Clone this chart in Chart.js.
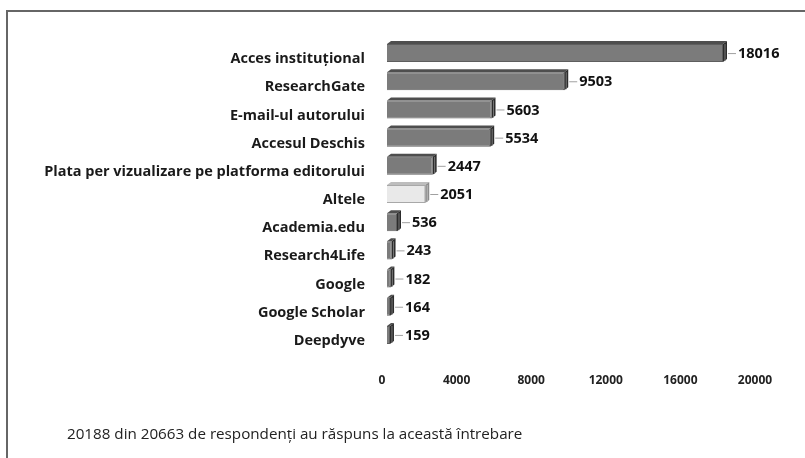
<!DOCTYPE html>
<html>
<head>
<meta charset="utf-8">
<script src="https://cdn.jsdelivr.net/npm/chart.js@4"></script>
<style>
  html, body { margin: 0; padding: 0; background: #fff; }
  #wrap { position: relative; width: 805px; height: 458px; overflow: hidden; }
  #frame { position: absolute; left: 6px; top: 10px; width: 820px; height: 470px;
           border-top: 2px solid #666; border-left: 2px solid #666; box-sizing: border-box; }
  canvas { position: absolute; left: 0; top: 0; }
  #note { position: absolute; left: 67px; top: 423px; font-family: "Open Sans", sans-serif;
          font-size: 15.2px; color: #222; white-space: nowrap; line-height: 20px; }
</style>
</head>
<body>
<div id="wrap">
  <div id="frame"></div>
  <canvas id="c" width="805" height="458"></canvas>
  <div id="note">20188 din 20663 de respondenți au răspuns la această întrebare</div>
</div>
<script>
const categories = ["Acces instituțional", "ResearchGate", "E-mail-ul autorului", "Accesul Deschis",
  "Plata per vizualizare pe platforma editorului", "Altele", "Academia.edu", "Research4Life",
  "Google", "Google Scholar", "Deepdyve"];
const values = [18016, 9503, 5603, 5534, 2447, 2051, 536, 243, 182, 164, 159];
const xTicks = [0, 4000, 8000, 12000, 16000, 20000];

const frontColors = values.map((v, i) => categories[i] === "Altele" ? "#e9e9e9" : "#7b7b7b");
const borderColors = values.map((v, i) => categories[i] === "Altele" ? "#a8a8a8" : "#5e5e5e");

const DX = 4, DY = 3;
const bar3d = {
  id: 'bar3d',
  afterDatasetsDraw(chart) {
    const ctx = chart.ctx;
    const meta = chart.getDatasetMeta(0);
    meta.data.forEach((el, i) => {
      const light = categories[i] === "Altele";
      const p = el.getProps(['x', 'y', 'base', 'height'], true);
      const top = p.y - p.height / 2, bot = p.y + p.height / 2;
      const x0 = p.base, x1 = p.x;
      ctx.save();
      ctx.beginPath();
      ctx.moveTo(x0, top); ctx.lineTo(x1, top); ctx.lineTo(x1 + DX, top - DY); ctx.lineTo(x0 + DX, top - DY); ctx.closePath();
      ctx.fillStyle = light ? "#bdbdbd" : "#4e4e4e"; ctx.fill();
      ctx.beginPath();
      ctx.moveTo(x1, top); ctx.lineTo(x1 + DX, top - DY); ctx.lineTo(x1 + DX, bot - DY); ctx.lineTo(x1, bot); ctx.closePath();
      ctx.fillStyle = light ? "#8c8c8c" : "#2c2c2c"; ctx.fill();
      ctx.strokeStyle = light ? "#bbbbbb" : "#777"; ctx.lineWidth = 1;
      ctx.beginPath(); ctx.moveTo(x1 + 2, top); ctx.lineTo(x1 + 2, bot - 1); ctx.stroke();
      ctx.strokeStyle = "#a0a0a0";
      ctx.beginPath(); ctx.moveTo(x1 + DX + 1, p.y + 0.5); ctx.lineTo(x1 + 13, p.y + 0.5); ctx.stroke();
      ctx.fillStyle = "#111";
      ctx.font = "bold 14.5px 'Open Sans', sans-serif";
      ctx.textAlign = "left"; ctx.textBaseline = "middle";
      ctx.fillText(String(values[i]), x1 + 15, p.y + 1);
      ctx.restore();
    });
  }
};

new Chart(document.getElementById('c'), {
  type: 'bar',
  data: {
    labels: categories,
    datasets: [{
      data: values,
      backgroundColor: frontColors,
      borderColor: borderColors,
      borderWidth: 1,
      barPercentage: 0.64,
      categoryPercentage: 1.0
    }]
  },
  options: {
    indexAxis: 'y',
    responsive: false,
    animation: false,
    layout: { padding: { left: 0, top: 39, right: 45, bottom: 0 } },
    plugins: { legend: { display: false }, tooltip: { enabled: false } },
    scales: {
      x: {
        min: 0, max: 20000,
        afterBuildTicks(s) { s.ticks = xTicks.map(v => ({ value: v })); },
        afterFit(s) { s.height = 109; },
        grid: { display: false, drawTicks: false },
        border: { display: false },
        ticks: { padding: 24, labelOffset: -5, color: '#222',
                 callback: v => String(v),
                 font: { family: "'Open Sans', sans-serif", size: 12, weight: 'bold' } }
      },
      y: {
        afterFit(s) { s.width = 387; },
        grid: { display: false, drawTicks: false },
        border: { display: false },
        ticks: { padding: 22, labelOffset: 6, color: '#1a1a1a', autoSkip: false,
                 font: { family: "'Open Sans', sans-serif", size: 14.5, weight: 'bold' } }
      }
    }
  },
  plugins: [bar3d]
});
</script>
</body>
</html>
